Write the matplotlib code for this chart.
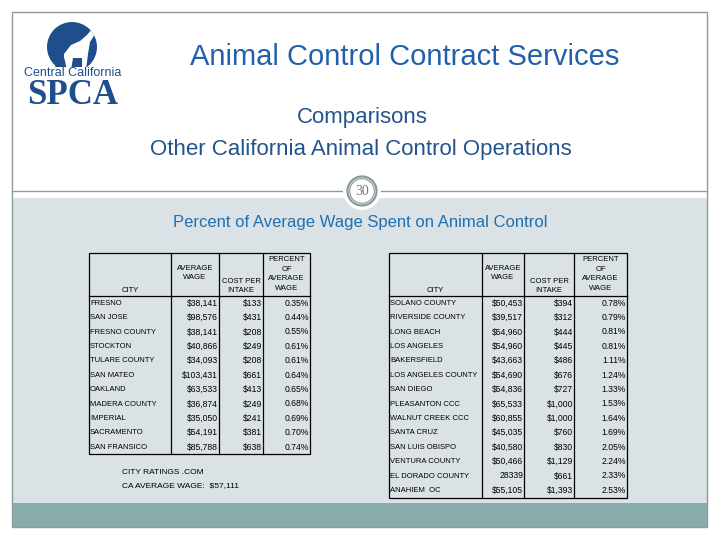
import matplotlib.pyplot as plt
from matplotlib.patches import Rectangle, Circle, Polygon

# table data
left_city = ["FRESNO", "SAN JOSE", "FRESNO COUNTY", "STOCKTON", "TULARE COUNTY",
             "SAN MATEO", "OAKLAND", "MADERA COUNTY", "IMPERIAL", "SACRAMENTO",
             "SAN FRANSICO"]
left_wage = ["$38,141", "$98,576", "$38,141", "$40,866", "$34,093", "$103,431",
             "$63,533", "$36,874", "$35,050", "$54,191", "$85,788"]
left_cost = ["$133", "$431", "$208", "$249", "$208", "$661", "$413", "$249",
             "$241", "$381", "$638"]
left_pct = ["0.35%", "0.44%", "0.55%", "0.61%", "0.61%", "0.64%", "0.65%",
            "0.68%", "0.69%", "0.70%", "0.74%"]

right_city = ["SOLANO COUNTY", "RIVERSIDE COUNTY", "LONG BEACH", "LOS ANGELES",
              "BAKERSFIELD", "LOS ANGELES COUNTY", "SAN DIEGO", "PLEASANTON CCC",
              "WALNUT CREEK CCC", "SANTA CRUZ", "SAN LUIS OBISPO", "VENTURA COUNTY",
              "EL DORADO COUNTY", "ANAHIEM  OC"]
right_wage = ["$50,453", "$39,517", "$54,960", "$54,960", "$43,663", "$54,690",
              "$54,836", "$65,533", "$60,855", "$45,035", "$40,580", "$50,466",
              "28339", "$55,105"]
right_cost = ["$394", "$312", "$444", "$445", "$486", "$676", "$727", "$1,000",
              "$1,000", "$760", "$830", "$1,129", "$661", "$1,393"]
right_pct = ["0.78%", "0.79%", "0.81%", "0.81%", "1.11%", "1.24%", "1.33%",
             "1.53%", "1.64%", "1.69%", "2.05%", "2.24%", "2.33%", "2.53%"]

notes = ["CITY RATINGS .COM", "CA AVERAGE WAGE:  $57,111"]

tfont = ["Liberation Sans", "DejaVu Sans"]
sans = ["Liberation Sans", "DejaVu Sans"]
fs = 5.5      # city names / headers
fs_num = 6.2  # numbers

fig = plt.figure(figsize=(7.2, 5.4), dpi=100)
ax = fig.add_axes([0, 0, 1, 1])
ax.set_xlim(0, 720)
ax.set_ylim(540, 0)
ax.axis("off")

# slide background and frame
ax.add_patch(Rectangle((12, 198), 695, 305, fc="#dbe2e5", ec="none"))
ax.add_patch(Rectangle((12, 503), 695, 24, fc="#88adab", ec="none"))
ax.add_patch(Rectangle((12, 12), 695, 515, fill=False, ec="#8d9a9d", lw=1))
ax.plot([12, 707], [190.5, 190.5], color="#8d9a9d", lw=1)

# page number badge
ax.add_patch(Circle((362, 191), 19, fc="white", ec="none", zorder=3))
ax.add_patch(Circle((362, 191), 14.5, fill=False, ec="#8a9a9a", lw=1.6, zorder=4))
ax.add_patch(Circle((362, 191), 12.3, fill=False, ec="#8a9a9a", lw=0.8, zorder=4))
ax.text(362, 191.5, "30", ha="center", va="center", fontsize=10,
        family="Liberation Serif", color="#6f7e7e", zorder=5)

# logo
blue = "#1f4e8c"
disk = Circle((72, 47), 25, fc=blue, ec="none")
ax.add_patch(disk)
horse = Polygon([(62, 70), (64, 54), (71, 45), (80, 41), (87, 35), (92, 29),
                 (95, 34), (90, 42), (88, 54), (86, 70), (82, 70), (82, 58),
                 (73, 58), (71, 70)], closed=True, fc="white", ec="none")
ax.add_patch(horse)
horse.set_clip_path(disk)
dog = Polygon([(55, 70), (56, 56), (59, 50), (63, 54), (65, 61), (67, 70)],
              closed=True, fc=blue, ec="none")
ax.add_patch(dog)
ax.add_patch(Rectangle((40, 67), 70, 12, fc="white", ec="none"))
ax.text(73, 73, "Central California", ha="center", va="center", fontsize=9,
        family=sans, color=blue)
ax.text(73, 95, "SPCA", ha="center", va="center", fontsize=25, weight="bold",
        family="Liberation Serif", color=blue)

# titles
ax.text(405, 57, "Animal Control Contract Services", ha="center", va="center",
        fontsize=21, family=sans, color="#2360ac")
ax.text(362, 118, "Comparisons", ha="center", va="center", fontsize=16,
        family=sans, color="#24548c")
ax.text(361, 149, "Other California Animal Control Operations", ha="center",
        va="center", fontsize=16, family=sans, color="#24548c")
ax.text(360, 223, "Percent of Average Wage Spent on Animal Control", ha="center",
        va="center", fontsize=12, family=sans, color="#2070b0")


def draw_table(edges, city, wage, cost, pct):
    top, head_bot, rh = 253, 296, 14.4
    bot = head_bot + rh * len(city)
    x0, x1, x2, x3, x4 = edges
    ax.add_patch(Rectangle((x0, top), x4 - x0, bot - top, fill=False,
                           ec="black", lw=0.9))
    ax.plot([x0, x4], [head_bot, head_bot], color="black", lw=0.9)
    for x in (x1, x2, x3):
        ax.plot([x, x], [top, bot], color="black", lw=0.9)
    kw = dict(ha="center", va="center", fontsize=fs, family=tfont,
              linespacing=1.55)
    ax.text((x0 + x1) / 2, 290, "CITY", **kw)
    ax.text((x1 + x2) / 2, 273, "AVERAGE\nWAGE", **kw)
    ax.text((x2 + x3) / 2, 286, "COST PER\nINTAKE", **kw)
    ax.text((x3 + x4) / 2, 274, "PERCENT\nOF\nAVERAGE\nWAGE", **kw)
    kw = dict(va="center", family=tfont)
    for i in range(len(city)):
        y = head_bot + rh * (i + 0.5)
        ax.text(x0 + 1, y, city[i], ha="left", fontsize=fs, **kw)
        ax.text(x2 - 1, y, wage[i], ha="right", fontsize=fs_num, **kw)
        ax.text(x3 - 1, y, cost[i], ha="right", fontsize=fs_num, **kw)
        ax.text(x4 - 1, y, pct[i], ha="right", fontsize=fs_num, **kw)


draw_table([89, 171, 219, 263, 310], left_city, left_wage, left_cost, left_pct)
draw_table([389, 482, 524, 574, 627], right_city, right_wage, right_cost, right_pct)

for i, line in enumerate(notes):
    ax.text(122, 473 + 13 * i, line, ha="left", va="center", fontsize=6,
            family=tfont)

fig.savefig("out.png", dpi=100)
